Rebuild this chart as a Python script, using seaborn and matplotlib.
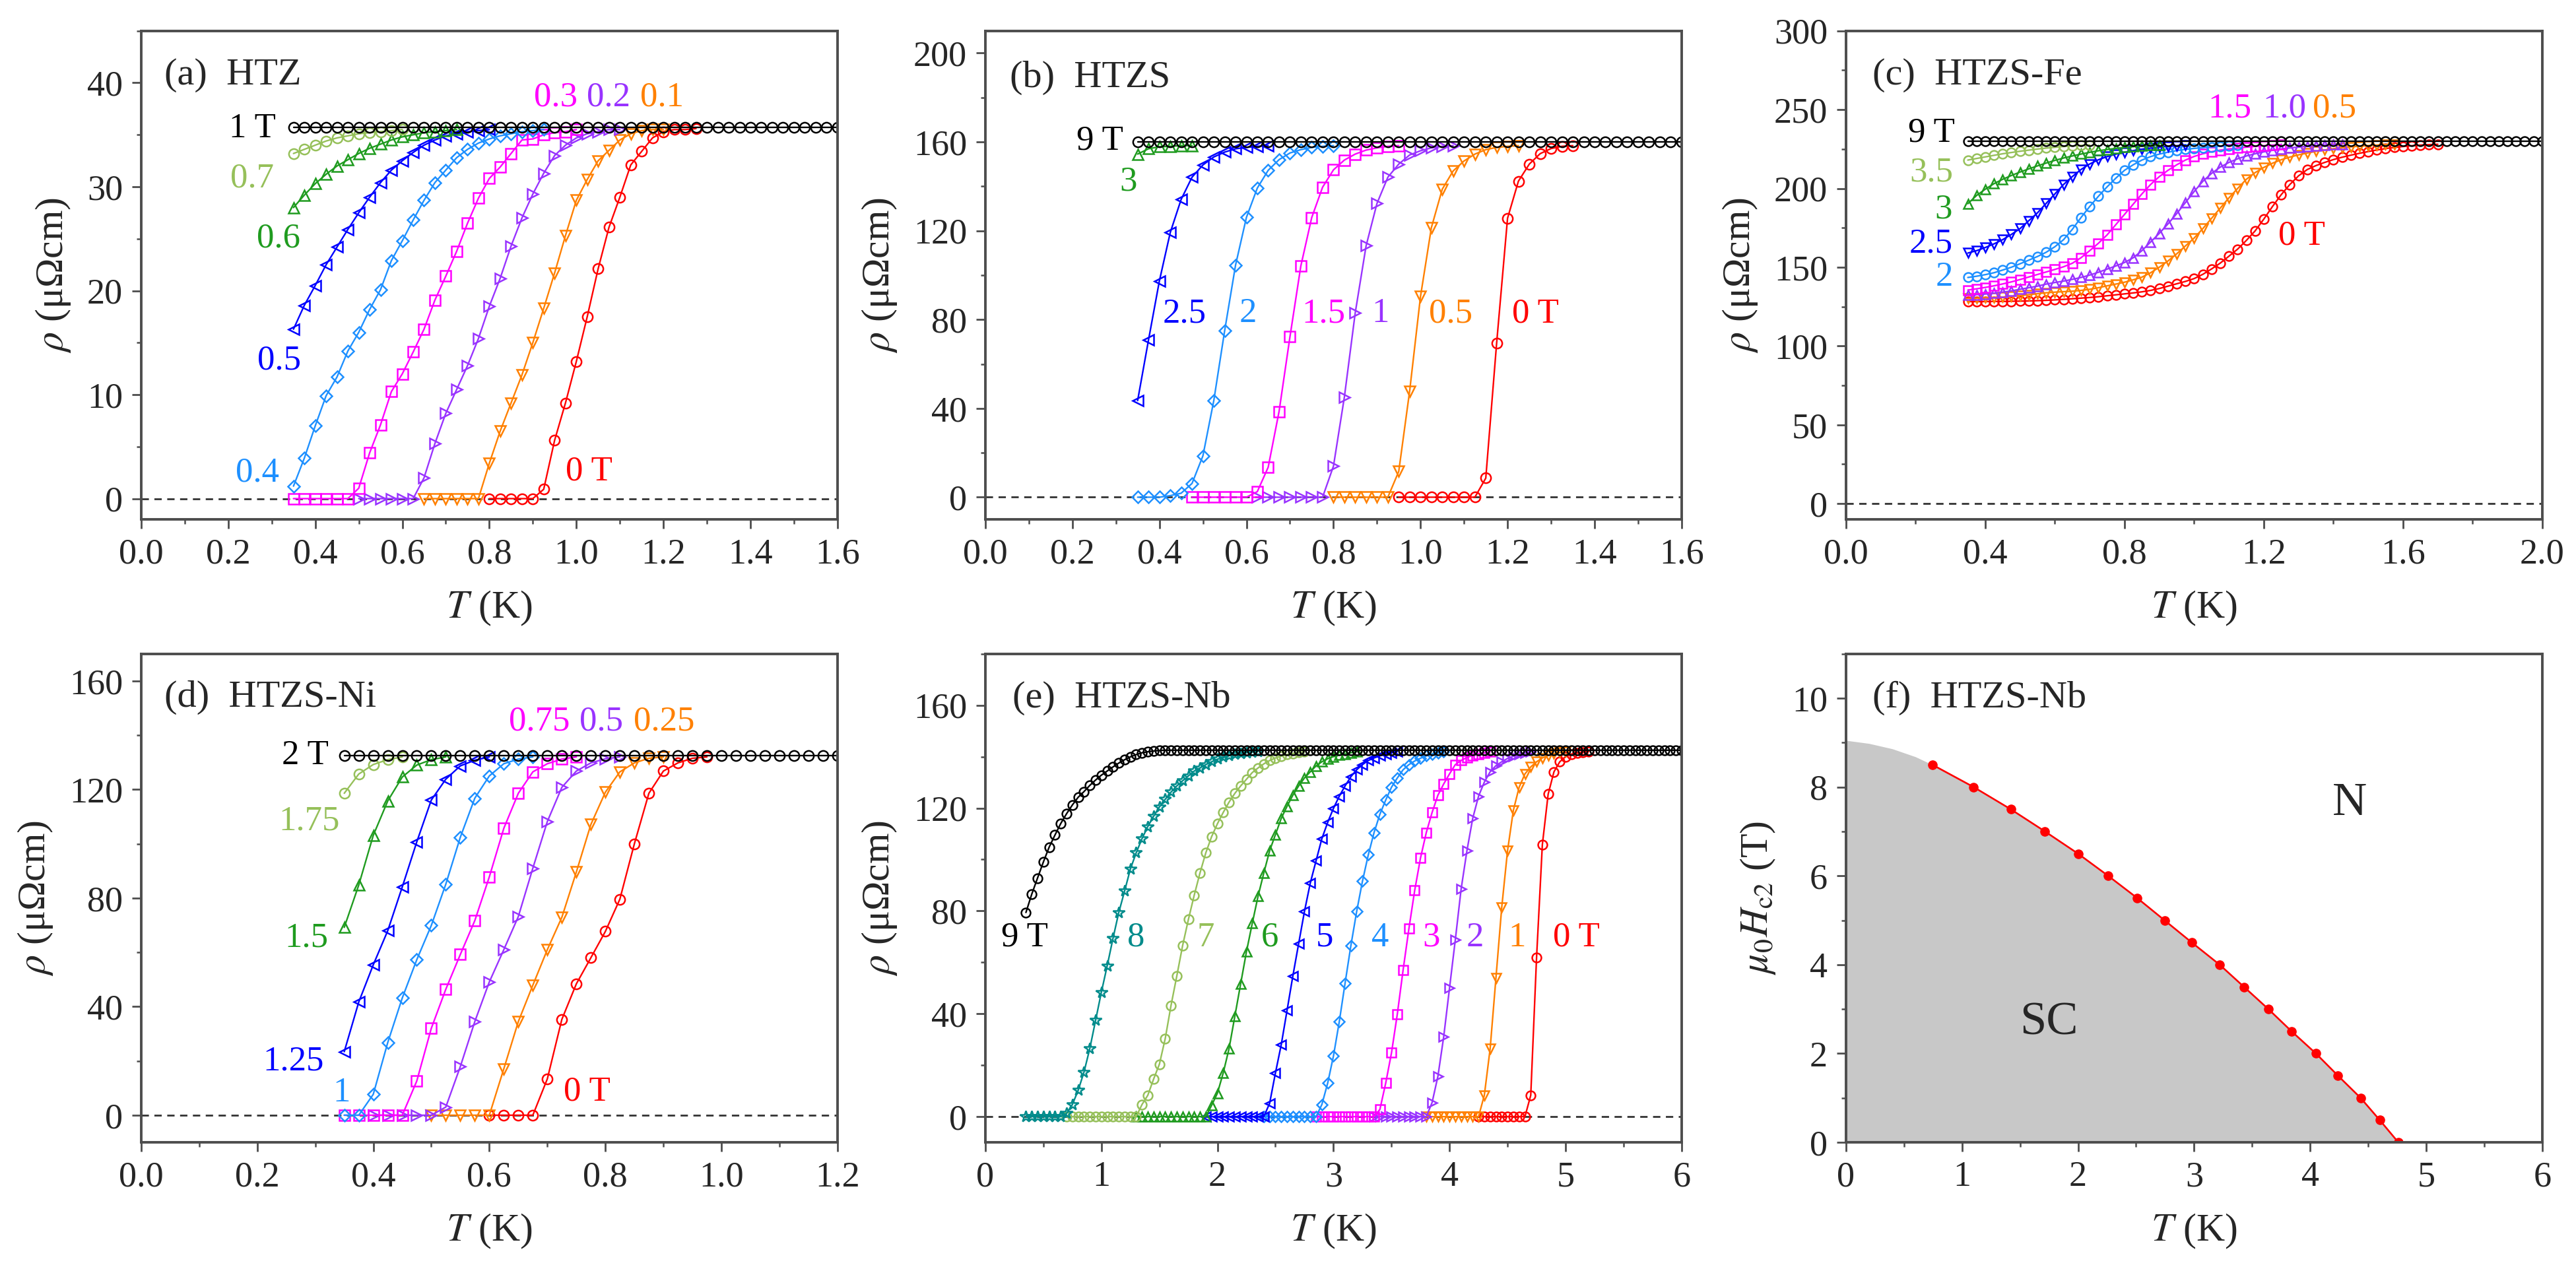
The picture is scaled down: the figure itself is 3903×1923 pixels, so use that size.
import numpy as np
import matplotlib
matplotlib.use('Agg')
import matplotlib.pyplot as plt
import seaborn as sns
from matplotlib.ticker import MultipleLocator, FormatStrFormatter

# ---------------- data ----------------
# temperature grids (K)
T_GRID = [0.35, 0.375, 0.4, 0.425, 0.45, 0.475, 0.5, 0.525, 0.55, 0.575,
          0.6, 0.625, 0.65, 0.675, 0.7, 0.725, 0.75, 0.775, 0.8, 0.825,
          0.85, 0.875, 0.9, 0.925, 0.95, 0.975, 1.0, 1.025, 1.05, 1.075,
          1.1, 1.125, 1.15, 1.175, 1.2, 1.225, 1.25, 1.275, 1.3, 1.325,
          1.35, 1.375, 1.4, 1.425, 1.45, 1.475, 1.5, 1.525, 1.55, 1.575,
          1.6, 1.625, 1.65, 1.675, 1.7, 1.725, 1.75, 1.775, 1.8, 1.825,
          1.85, 1.875, 1.9, 1.925, 1.95, 1.975, 2.0]
T_E = [0.35, 0.4, 0.45, 0.5, 0.55, 0.6, 0.65, 0.7, 0.75, 0.8,
       0.85, 0.9, 0.95, 1.0, 1.05, 1.1, 1.15, 1.2, 1.25, 1.3,
       1.35, 1.4, 1.45, 1.5, 1.55, 1.6, 1.65, 1.7, 1.75, 1.8,
       1.85, 1.9, 1.95, 2.0, 2.05, 2.1, 2.15, 2.2, 2.25, 2.3,
       2.35, 2.4, 2.45, 2.5, 2.55, 2.6, 2.65, 2.7, 2.75, 2.8,
       2.85, 2.9, 2.95, 3.0, 3.05, 3.1, 3.15, 3.2, 3.25, 3.3,
       3.35, 3.4, 3.45, 3.5, 3.55, 3.6, 3.65, 3.7, 3.75, 3.8,
       3.85, 3.9, 3.95, 4.0, 4.05, 4.1, 4.15, 4.2, 4.25, 4.3,
       4.35, 4.4, 4.45, 4.5, 4.55, 4.6, 4.65, 4.7, 4.75, 4.8,
       4.85, 4.9, 4.95, 5.0, 5.05, 5.1, 5.15, 5.2, 5.25, 5.3,
       5.35, 5.4, 5.45, 5.5, 5.55, 5.6, 5.65, 5.7, 5.75, 5.8,
       5.85, 5.9, 5.95, 6.0]

# (a) HTZ  -- rho (uOhm cm), first T given by *_START
A_0_START, A_0 = 0.8, [0, 0, 0, 0, 0, 0.9, 5.6, 9.2, 13.2, 17.5, 22.1, 26.1, 29.0, 32.1, 33.4, 34.7, 35.3, 35.5, 35.5, 35.6]
A_01_START, A_01 = 0.65, [0, 0, 0, 0, 0, 0, 3.4, 6.5, 9.2, 11.9, 15.0, 18.3, 21.7, 25.3, 28.7, 30.7, 32.5, 33.5, 34.5, 35.1, 35.4, 35.5, 35.5]
A_02_START, A_02 = 0.5, [0, 0, 0, 0, 0, 0, 2.0, 5.3, 8.2, 10.5, 12.8, 15.4, 18.5, 21.2, 24.3, 27.0, 29.3, 31.3, 33.0, 34.0, 34.7, 35.1, 35.3, 35.5, 35.5]
A_03_START, A_03 = 0.35, [0, 0, 0, 0, 0, 0, 1.0, 4.4, 7.1, 10.3, 12.0, 14.1, 16.3, 19.1, 21.4, 23.8, 26.5, 28.9, 30.8, 31.9, 33.2, 34.5, 34.6, 35.0, 35.2, 35.3, 35.5]
A_04 = [1.2, 3.9, 7.0, 9.9, 11.7, 14.2, 16.0, 18.2, 20.1, 22.9, 24.8, 26.8, 28.7, 30.4, 31.6, 32.8, 33.6, 34.2, 34.6, 34.9, 35.1, 35.3, 35.4, 35.5]
A_05 = [16.3, 18.6, 20.5, 22.5, 24.2, 25.9, 27.5, 29.0, 30.4, 31.6, 32.5, 33.3, 34.0, 34.5, 34.9, 35.1, 35.3, 35.4, 35.5]
A_06 = [28.0, 29.2, 30.3, 31.2, 32.0, 32.6, 33.2, 33.7, 34.1, 34.5, 34.8, 35.0, 35.2, 35.3, 35.4, 35.5]
A_07 = [33.2, 33.6, 34.0, 34.4, 34.7, 34.9, 35.1, 35.2, 35.3, 35.4, 35.5]
A_1 = [35.7, 35.7, 35.7, 35.7, 35.7, 35.7, 35.7, 35.7, 35.7, 35.7,
       35.7, 35.7, 35.7, 35.7, 35.7, 35.7, 35.7, 35.7, 35.7, 35.7,
       35.7, 35.7, 35.7, 35.7, 35.7, 35.7, 35.7, 35.7, 35.7, 35.7,
       35.7, 35.7, 35.7, 35.7, 35.7, 35.7, 35.7, 35.7, 35.7, 35.7,
       35.7, 35.7, 35.7, 35.7, 35.7, 35.7, 35.7, 35.7, 35.7, 35.7, 35.7]

# (b) HTZS
B_0_START, B_0 = 0.95, [0, 0, 0, 0, 0, 0, 0, 0, 8.6, 69.5, 125.6, 142.3, 150.0, 154.7, 157.0, 158.0, 158.3]
B_05_START, B_05 = 0.8, [0, 0, 0, 0, 0, 0, 11.6, 47.7, 90.4, 121.4, 138.7, 146.9, 151.4, 154.5, 156.5, 157.5, 158.0, 158.3]
B_1_START, B_1 = 0.625, [0, 0, 0, 0, 0, 0, 0, 14.0, 45.0, 83.0, 113.2, 132.3, 144.1, 150.0, 154.1, 156.0, 157.3, 158.0, 158.3]
B_15_START, B_15 = 0.475, [0, 0, 0, 0, 0, 0, 2.5, 13.5, 38.6, 72.2, 104.1, 125.9, 139.6, 147.4, 151.8, 154.5, 156.3, 157.3, 158.0, 158.3]
B_2 = [0, 0, 0, 0.7, 1.8, 6.2, 18.6, 43.5, 75.0, 104.5, 126.0, 139.2, 147.2, 152.0, 155.0, 156.5, 157.5, 158.0, 158.3]
B_25 = [43.5, 70.8, 97.4, 119.2, 134.1, 144.1, 149.6, 153.2, 155.4, 156.9, 157.5, 158.0, 158.3]
B_3 = [154.5, 156.9, 157.8, 158.0, 158.3, 158.3]
B_9 = [160, 160, 160, 160, 160, 160, 160, 160, 160, 160,
       160, 160, 160, 160, 160, 160, 160, 160, 160, 160,
       160, 160, 160, 160, 160, 160, 160, 160, 160, 160,
       160, 160, 160, 160, 160, 160, 160, 160, 160, 160,
       160, 160, 160, 160, 160, 160, 160, 160, 160, 160, 160]

# (c) HTZS-Fe (all start at 0.35 K)
C_0 = [128.2, 128.2, 128.2, 128.3, 128.3, 128.4, 128.5, 128.6, 128.8, 129.0,
       129.3, 129.6, 130.0, 130.4, 130.8, 131.3, 131.9, 132.5, 133.1, 133.7,
       134.4, 135.3, 136.5, 138.0, 139.5, 141.0, 142.8, 145.5, 148.9, 152.6,
       157.0, 161.5, 167.0, 173.0, 180.5, 188.5, 196.0, 202.5, 208.0, 212.0,
       214.5, 216.5, 218.3, 219.8, 221.1, 222.3, 223.4, 224.4, 225.3, 226.0,
       226.6, 227.1, 227.5, 227.8, 228.0]
C_05 = [130.3, 130.4, 130.6, 130.8, 131.1, 131.5, 132.0, 132.6, 133.2, 133.8,
        134.2, 134.5, 134.8, 135.3, 136.0, 137.0, 138.2, 139.3, 140.5, 142.0,
        143.7, 146.5, 150.0, 154.0, 158.5, 163.5, 168.5, 174.5, 181.0, 187.5,
        194.0, 200.0, 205.8, 210.0, 213.3, 216.0, 218.2, 219.9, 221.3, 222.5,
        223.5, 224.4, 225.2, 225.9, 226.4, 226.8, 227.2, 227.5, 227.8, 228.0]
C_10 = [132.4, 132.6, 133.0, 133.5, 134.2, 135.0, 136.0, 137.0, 138.0, 139.3,
        140.3, 141.2, 142.3, 143.5, 145.0, 146.8, 148.8, 150.8, 153.0, 156.0,
        160.5, 166.0, 171.5, 177.5, 184.0, 191.0, 198.0, 204.5, 209.5, 213.5,
        216.5, 218.8, 220.6, 222.0, 223.2, 224.2, 225.0, 225.7, 226.2, 226.7,
        227.1, 227.5, 227.8, 228.0]
C_15 = [135.5, 136.3, 137.2, 138.2, 139.4, 140.7, 142.2, 143.8, 145.4, 147.0,
        148.6, 150.3, 152.5, 156.0, 160.5, 165.2, 170.5, 177.0, 183.5, 190.0,
        196.5, 202.5, 207.5, 211.5, 215.0, 218.0, 220.3, 222.0, 223.3, 224.3,
        225.0, 225.6, 226.2, 226.7, 227.1, 227.5, 227.8]
C_2 = [143.5, 144.3, 145.3, 146.5, 148.2, 150.0, 152.2, 154.5, 156.8, 159.5,
       163.0, 167.5, 174.0, 181.5, 188.5, 195.0, 201.0, 206.5, 211.5, 215.0,
       218.0, 220.2, 221.8, 223.0, 224.0, 224.8, 225.4, 225.9, 226.4, 226.8,
       227.2, 227.5]
C_25 = [159.0, 160.5, 162.5, 164.8, 167.5, 170.8, 174.5, 179.5, 184.5, 190.5,
        196.5, 202.5, 207.5, 212.0, 215.5, 218.2, 220.2, 221.7, 223.0, 224.0,
        224.9, 225.6, 226.2, 226.7, 227.1, 227.5]
C_3 = [190.3, 195.5, 199.5, 203.0, 205.8, 208.2, 210.4, 212.4, 214.3, 216.1,
       217.8, 219.3, 220.6, 221.8, 222.9, 223.9, 224.7, 225.4, 226.0, 226.5,
       226.9, 227.3, 227.6]
C_35 = [218.0, 219.0, 220.0, 221.0, 222.0, 222.8, 223.6, 224.3, 225.0, 225.6,
        226.1, 226.6, 227.0, 227.3, 227.6]
C_9 = [230, 230, 230, 230, 230, 230, 230, 230, 230, 230,
       230, 230, 230, 230, 230, 230, 230, 230, 230, 230,
       230, 230, 230, 230, 230, 230, 230, 230, 230, 230,
       230, 230, 230, 230, 230, 230, 230, 230, 230, 230,
       230, 230, 230, 230, 230, 230, 230, 230, 230, 230,
       230, 230, 230, 230, 230, 230, 230, 230, 230, 230,
       230, 230, 230, 230, 230, 230, 230]

# (d) HTZS-Ni
D_0_START, D_0 = 0.6, [0, 0, 0, 0, 13.4, 35.3, 48.4, 58.0, 67.7, 79.6, 100.0, 118.6, 126.8, 129.8, 131.5, 132.0]
D_025_START, D_025 = 0.5, [0, 0, 0, 0, 0, 17.1, 34.5, 47.9, 61.0, 72.9, 89.6, 107.1, 119.0, 126.5, 129.8, 131.5, 132.0]
D_05_START, D_05 = 0.4, [0, 0, 0, 0, 0, 3.0, 17.9, 34.5, 49.1, 61.0, 73.2, 91.0, 108.2, 120.8, 126.8, 129.8, 131.3, 132.0]
D_075 = [0, 0, 0, 0, 0, 12.6, 32.0, 46.4, 59.2, 71.7, 87.8, 105.7, 118.6, 126.5, 129.5, 131.2, 132.0]
D_1 = [0, 0, 7.7, 26.8, 43.2, 57.3, 69.9, 85.1, 102.4, 116.8, 125.0, 129.5, 131.2, 132.0]
D_125 = [23.4, 41.7, 55.4, 68.0, 84.1, 100.7, 116.1, 123.8, 128.7, 130.8, 132.0]
D_15 = [69.2, 84.8, 103.1, 115.8, 124.6, 129.0, 131.0, 132.0]
D_175 = [118.6, 125.7, 129.2, 131.0, 132.0]
D_2 = [132.5, 132.5, 132.5, 132.5, 132.5, 132.5, 132.5, 132.5, 132.5, 132.5,
       132.5, 132.5, 132.5, 132.5, 132.5, 132.5, 132.5, 132.5, 132.5, 132.5,
       132.5, 132.5, 132.5, 132.5, 132.5, 132.5, 132.5, 132.5, 132.5, 132.5,
       132.5, 132.5, 132.5, 132.5, 132.5]

# (e) HTZS-Nb
E_0_START, E_0 = 4.25, [0, 0, 0, 0, 0, 0, 0, 0, 0, 8.3, 61.8, 105.8, 125.4, 134.1, 138.0, 140.0, 141.0, 141.5, 141.8, 142.0]
E_1_START, E_1 = 3.8, [0, 0, 0, 0, 0, 0, 0, 0, 0, 0, 8.3, 26.4, 53.9, 81.4, 103.4, 119.1, 128.1, 133.3, 136.0, 138.0, 139.5, 140.5, 141.2, 141.6, 142.0]
E_2_START, E_2 = 3.35, [0, 0, 0, 0, 0, 0, 0, 0, 0, 0, 5.5, 15.7, 31.1, 50.0, 68.8, 88.5, 103.4, 116.0, 124.6, 130.1, 134.1, 136.5, 138.0, 139.3, 140.2, 141.0, 141.5, 142.0]
E_3_START, E_3 = 2.85, [0, 0, 0, 0, 0, 0, 0, 0, 0, 0, 0, 2.8, 13.0, 24.8, 39.8, 57.0, 73.1, 88.0, 100.6, 110.5, 118.3, 125.0, 129.4, 133.3, 136.9, 138.5, 139.7, 140.5, 141.0, 141.5, 142.0]
E_4_START, E_4 = 2.4, [0, 0, 0, 0, 0, 0, 0, 0, 0, 0, 4.7, 13.0, 23.6, 36.9, 51.9, 66.5, 79.8, 91.6, 101.8, 110.5, 117.6, 123.1, 128.1, 131.7, 134.9, 136.9, 138.3, 139.4, 140.3, 141.0, 141.5, 142.0]
E_5_START, E_5 = 1.9, [0, 0, 0, 0, 0, 0, 0, 0, 0, 0, 0, 5.2, 17.0, 28.0, 41.3, 54.7, 67.3, 79.8, 90.8, 99.5, 108.1, 114.4, 119.9, 124.6, 128.6, 132.2, 134.9, 136.9, 138.5, 139.5, 140.3, 141.0, 141.5, 142.0]
E_6_START, E_6 = 1.3, [0, 0, 0, 0, 0, 0, 0, 0, 0, 0, 0, 0, 0, 4.4, 9.1, 17.0, 26.4, 39.0, 51.6, 64.1, 75.1, 85.7, 94.8, 103.4, 109.7, 116.0, 120.7, 125.0, 128.6, 131.7, 134.1, 136.4, 138.0, 139.2, 140.0, 140.6, 141.0, 141.5, 142.0]
E_7_START, E_7 = 0.7, [0, 0, 0, 0, 0, 0, 0, 0, 0, 0, 0, 0, 0, 4.7, 8.3, 14.6, 20.4, 30.3, 43.2, 54.7, 66.5, 76.7, 86.1, 94.8, 102.6, 108.9, 113.9, 118.3, 122.3, 125.7, 128.6, 131.2, 133.8, 135.6, 137.2, 138.5, 139.5, 140.2, 140.8, 141.2, 141.6, 142.0]
E_8 = [0, 0, 0, 0, 0, 0, 0, 1.2, 4.7, 10.2, 17.3, 26.4, 37.4, 48.4, 58.6, 69.3, 79.4, 87.7, 96.3, 102.6, 108.1, 112.8, 116.8, 120.4, 123.4, 126.2, 128.6, 130.6, 132.5, 134.4, 135.6, 136.9, 138.0, 139.0, 139.8, 140.4, 140.9, 141.2, 141.5, 141.8, 142.0]
E_9 = [79.4, 86.5, 92.8, 99.0, 104.8, 109.5, 114.0, 117.8, 121.2, 124.2,
       126.4, 128.8, 130.9, 132.8, 134.4, 136.0, 137.5, 138.8, 139.9, 140.8,
       141.5, 141.9, 142.2, 142.4, 142.5, 142.5, 142.5, 142.5, 142.5, 142.5,
       142.5, 142.5, 142.5, 142.5, 142.5, 142.5, 142.5, 142.5, 142.5, 142.5,
       142.5, 142.5, 142.5, 142.5, 142.5, 142.5, 142.5, 142.5, 142.5, 142.5,
       142.5, 142.5, 142.5, 142.5, 142.5, 142.5, 142.5, 142.5, 142.5, 142.5,
       142.5, 142.5, 142.5, 142.5, 142.5, 142.5, 142.5, 142.5, 142.5, 142.5,
       142.5, 142.5, 142.5, 142.5, 142.5, 142.5, 142.5, 142.5, 142.5, 142.5,
       142.5, 142.5, 142.5, 142.5, 142.5, 142.5, 142.5, 142.5, 142.5, 142.5,
       142.5, 142.5, 142.5, 142.5, 142.5, 142.5, 142.5, 142.5, 142.5, 142.5,
       142.5, 142.5, 142.5, 142.5, 142.5, 142.5, 142.5, 142.5, 142.5, 142.5,
       142.5, 142.5, 142.5, 142.5]

# (f) upper critical field of HTZS-Nb
T_HC2 = [0.746, 1.1, 1.42, 1.715, 2.0, 2.26, 2.51, 2.745, 2.98, 3.22,
         3.43, 3.64, 3.84, 4.05, 4.24, 4.435, 4.6, 4.76]
H_HC2 = [8.5, 8.0, 7.5, 7.0, 6.5, 6.0, 5.5, 5.0, 4.5, 4.0,
         3.5, 3.0, 2.5, 2.0, 1.5, 1.0, 0.5, 0.0]
T_SC_EXTRA = [0.0, 0.2, 0.4, 0.6]
H_SC_EXTRA = [9.05, 8.98, 8.86, 8.68]

# ---------------- style ----------------
RED, ORANGE, PURPLE, MAGENTA = '#FF0000', '#FF8000', '#9933FF', '#FF00FF'
LBLUE, BLUE, GREEN, LGREEN = '#1E90FF', '#0000FF', '#1F9B1F', '#96C05A'
TEAL, BLACK = '#008B8B', '#000000'
SPINE = '#4d4d4d'

sns.set_style('ticks')
plt.rcParams['font.family'] = 'serif'
plt.rcParams['font.serif'] = ['Liberation Serif', 'DejaVu Serif']
plt.rcParams['mathtext.fontset'] = 'stix'

TICK_FS, LABEL_FS, ANN_FS, TITLE_FS = 39, 43, 38, 42

fig = plt.figure(figsize=(39.03, 19.23), dpi=100)
W, H = 0.2703, 0.3850
X0 = [0.0548, 0.3825, 0.7166]
Y0 = [0.5907, 0.0998]
axA = fig.add_axes([X0[0], Y0[0], W, H])
axB = fig.add_axes([X0[1], Y0[0], W, H])
axC = fig.add_axes([X0[2], Y0[0], W, H])
axD = fig.add_axes([X0[0], Y0[1], W, H])
axE = fig.add_axes([X0[1], Y0[1], W, H])
axF = fig.add_axes([X0[2], Y0[1], W, H])


def curve(ax, Tgrid, start, rho, color, marker, ms=11, mfc='none'):
    Tg = np.asarray(Tgrid, float)
    i0 = int(np.argmin(np.abs(Tg - start)))
    x = Tg[i0:i0 + len(rho)]
    y = np.asarray(rho, float)
    size = ms * (0.8 if marker == 'D' else (1.3 if marker == '*' else 1.0))
    sns.lineplot(x=x, y=y, ax=ax, color=color, marker=marker, markersize=size,
                 markerfacecolor=mfc, markeredgecolor=color, markeredgewidth=1.8,
                 linewidth=1.7, estimator=None, sort=False, legend=False)


def style(ax, xlim, ylim, xmaj, xmin, ymaj, ymin, xfmt, ylabel):
    ax.set_xlim(*xlim)
    ax.set_ylim(*ylim)
    ax.xaxis.set_major_locator(MultipleLocator(xmaj))
    ax.xaxis.set_minor_locator(MultipleLocator(xmin))
    ax.yaxis.set_major_locator(MultipleLocator(ymaj))
    ax.yaxis.set_minor_locator(MultipleLocator(ymin))
    ax.xaxis.set_major_formatter(FormatStrFormatter(xfmt))
    ax.yaxis.set_major_formatter(FormatStrFormatter('%d'))
    ax.tick_params(which='major', direction='out', length=10, width=2.0,
                   labelsize=TICK_FS, pad=10, color=SPINE, top=False, right=False)
    ax.tick_params(which='minor', direction='out', length=5, width=1.8,
                   color=SPINE, top=False, right=False)
    for s in ax.spines.values():
        s.set_visible(True)
        s.set_color(SPINE)
        s.set_linewidth(2.8)
    ax.set_xlabel(r'$T$ (K)', fontsize=LABEL_FS, labelpad=20)
    ax.set_ylabel(ylabel, fontsize=LABEL_FS, labelpad=16)


def zero_line(ax):
    ax.axhline(0, color='#333333', lw=2.0, ls=(0, (4, 3)), zorder=0.5)


def texts(ax, items):
    for s, x, y, c, ha in items:
        ax.text(x, y, s, color=c, ha=ha, va='center', fontsize=ANN_FS)


RHO_LABEL = r'$\rho$ (μΩcm)'

# ----- (a) -----
zero_line(axA)
curve(axA, T_GRID, A_0_START, A_0, RED, 'o')
curve(axA, T_GRID, A_01_START, A_01, ORANGE, 'v')
curve(axA, T_GRID, A_02_START, A_02, PURPLE, '>')
curve(axA, T_GRID, A_03_START, A_03, MAGENTA, 's')
curve(axA, T_GRID, 0.35, A_04, LBLUE, 'D')
curve(axA, T_GRID, 0.35, A_05, BLUE, '<')
curve(axA, T_GRID, 0.35, A_06, GREEN, '^')
curve(axA, T_GRID, 0.35, A_07, LGREEN, 'o')
curve(axA, T_GRID, 0.35, A_1, BLACK, 'o')
style(axA, (0, 1.6), (-2, 45), 0.2, 0.1, 10, 5, '%.1f', RHO_LABEL)
texts(axA, [("1 T", 0.31, 35.6, BLACK, 'right'), ("0.7", 0.305, 30.8, LGREEN, 'right'),
            ("0.6", 0.365, 25.0, GREEN, 'right'), ("0.5", 0.367, 13.3, BLUE, 'right'),
            ("0.4", 0.317, 2.5, LBLUE, 'right'), ("0 T", 0.975, 2.6, RED, 'left'),
            ("0.3", 0.902, 38.6, MAGENTA, 'left'), ("0.2", 1.024, 38.6, PURPLE, 'left'),
            ("0.1", 1.147, 38.6, ORANGE, 'left')])
axA.text(0.053, 40.7, "(a)  HTZ", fontsize=TITLE_FS, va='center', ha='left')

# ----- (b) -----
zero_line(axB)
curve(axB, T_GRID, B_0_START, B_0, RED, 'o')
curve(axB, T_GRID, B_05_START, B_05, ORANGE, 'v')
curve(axB, T_GRID, B_1_START, B_1, PURPLE, '>')
curve(axB, T_GRID, B_15_START, B_15, MAGENTA, 's')
curve(axB, T_GRID, 0.35, B_2, LBLUE, 'D')
curve(axB, T_GRID, 0.35, B_25, BLUE, '<')
curve(axB, T_GRID, 0.35, B_3, GREEN, '^')
curve(axB, T_GRID, 0.35, B_9, BLACK, 'o')
style(axB, (0, 1.6), (-10, 210), 0.2, 0.1, 40, 20, '%.1f', RHO_LABEL)
texts(axB, [("9 T", 0.317, 160.5, BLACK, 'right'), ("3", 0.348, 142, GREEN, 'right'),
            ("2.5", 0.408, 82.6, BLUE, 'left'), ("2", 0.584, 82.6, LBLUE, 'left'),
            ("1.5", 0.727, 82.6, MAGENTA, 'left'), ("1", 0.888, 82.6, PURPLE, 'left'),
            ("0.5", 1.02, 82.6, ORANGE, 'left'), ("0 T", 1.211, 82.6, RED, 'left')])
axB.text(0.057, 189, "(b)  HTZS", fontsize=TITLE_FS, va='center', ha='left')

# ----- (c) -----
zero_line(axC)
MS_C = 10
curve(axC, T_GRID, 0.35, C_0, RED, 'o', MS_C)
curve(axC, T_GRID, 0.35, C_05, ORANGE, 'v', MS_C)
curve(axC, T_GRID, 0.35, C_10, PURPLE, '^', MS_C)
curve(axC, T_GRID, 0.35, C_15, MAGENTA, 's', MS_C)
curve(axC, T_GRID, 0.35, C_2, LBLUE, 'o', MS_C)
curve(axC, T_GRID, 0.35, C_25, BLUE, 'v', MS_C)
curve(axC, T_GRID, 0.35, C_3, GREEN, '^', MS_C)
curve(axC, T_GRID, 0.35, C_35, LGREEN, 'o', MS_C)
curve(axC, T_GRID, 0.35, C_9, BLACK, 'o', MS_C)
style(axC, (0, 2.0), (-10, 300), 0.4, 0.2, 50, 25, '%.1f', RHO_LABEL)
texts(axC, [("9 T", 0.312, 235, BLACK, 'right'), ("3.5", 0.307, 210, LGREEN, 'right'),
            ("3", 0.304, 186.5, GREEN, 'right'), ("2.5", 0.307, 164.7, BLUE, 'right'),
            ("2", 0.307, 143.5, LBLUE, 'right'), ("0 T", 1.241, 170, RED, 'left'),
            ("1.5", 1.039, 250.6, MAGENTA, 'left'), ("1.0", 1.197, 250.6, PURPLE, 'left'),
            ("0.5", 1.34, 250.6, ORANGE, 'left')])
axC.text(0.076, 272, "(c)  HTZS-Fe", fontsize=TITLE_FS, va='center', ha='left')

# ----- (d) -----
zero_line(axD)
curve(axD, T_GRID, D_0_START, D_0, RED, 'o')
curve(axD, T_GRID, D_025_START, D_025, ORANGE, 'v')
curve(axD, T_GRID, D_05_START, D_05, PURPLE, '>')
curve(axD, T_GRID, 0.35, D_075, MAGENTA, 's')
curve(axD, T_GRID, 0.35, D_1, LBLUE, 'D')
curve(axD, T_GRID, 0.35, D_125, BLUE, '<')
curve(axD, T_GRID, 0.35, D_15, GREEN, '^')
curve(axD, T_GRID, 0.35, D_175, LGREEN, 'o')
curve(axD, T_GRID, 0.35, D_2, BLACK, 'o')
style(axD, (0, 1.2), (-10, 170), 0.2, 0.1, 40, 20, '%.1f', RHO_LABEL)
texts(axD, [("2 T", 0.323, 132.4, BLACK, 'right'), ("1.75", 0.342, 108.3, LGREEN, 'right'),
            ("1.5", 0.323, 65.2, GREEN, 'right'), ("1.25", 0.315, 19.8, BLUE, 'right'),
            ("1", 0.36, 8.2, LBLUE, 'right'), ("0 T", 0.728, 8.5, RED, 'left'),
            ("0.75", 0.634, 145, MAGENTA, 'left'), ("0.5", 0.755, 145, PURPLE, 'left'),
            ("0.25", 0.849, 145, ORANGE, 'left')])
axD.text(0.04, 154, "(d)  HTZS-Ni", fontsize=TITLE_FS, va='center', ha='left')

# ----- (e) -----
zero_line(axE)
MS_E = 10
curve(axE, T_E, E_0_START, E_0, RED, 'o', MS_E)
curve(axE, T_E, E_1_START, E_1, ORANGE, 'v', MS_E)
curve(axE, T_E, E_2_START, E_2, PURPLE, '>', MS_E)
curve(axE, T_E, E_3_START, E_3, MAGENTA, 's', MS_E)
curve(axE, T_E, E_4_START, E_4, LBLUE, 'D', MS_E)
curve(axE, T_E, E_5_START, E_5, BLUE, '<', MS_E)
curve(axE, T_E, E_6_START, E_6, GREEN, '^', MS_E)
curve(axE, T_E, E_7_START, E_7, LGREEN, 'o', MS_E)
curve(axE, T_E, 0.35, E_8, TEAL, '*', MS_E)
curve(axE, T_E, 0.35, E_9, BLACK, 'o', MS_E)
style(axE, (0, 6), (-10, 180), 1, 0.5, 40, 20, '%d', RHO_LABEL)
texts(axE, [("9 T", 0.137, 69.6, BLACK, 'left'), ("8", 1.225, 69.6, TEAL, 'left'),
            ("7", 1.823, 69.6, LGREEN, 'left'), ("6", 2.374, 69.6, GREEN, 'left'),
            ("5", 2.85, 69.6, BLUE, 'left'), ("4", 3.33, 69.6, LBLUE, 'left'),
            ("3", 3.768, 69.6, MAGENTA, 'left'), ("2", 4.145, 69.6, PURPLE, 'left'),
            ("1", 4.508, 69.6, ORANGE, 'left'), ("0 T", 4.894, 69.6, RED, 'left')])
axE.text(0.236, 162.7, "(e)  HTZS-Nb", fontsize=TITLE_FS, va='center', ha='left')

# ----- (f) -----
axF.fill_between(T_SC_EXTRA + T_HC2, H_SC_EXTRA + H_HC2, 0, color='#c8c8c8', lw=0, zorder=0.5)
sns.lineplot(x=np.asarray(T_HC2), y=np.asarray(H_HC2), ax=axF, color=RED, marker='o',
             markersize=9.5, markerfacecolor=RED, markeredgecolor=RED, markeredgewidth=1.0,
             linewidth=1.9, estimator=None, sort=False, legend=False)
style(axF, (0, 6), (0, 11), 1, 0.5, 2, 1, '%d', r'$\mu_0H_{\rm c2}$ (T)')
axF.text(0.227, 10.0, "(f)  HTZS-Nb", fontsize=TITLE_FS, va='center', ha='left')
axF.text(4.34, 7.63, "N", fontsize=52, va='center', ha='center')
axF.text(1.75, 2.69, "SC", fontsize=52, va='center', ha='center')

fig.savefig('out.png', dpi=100)
